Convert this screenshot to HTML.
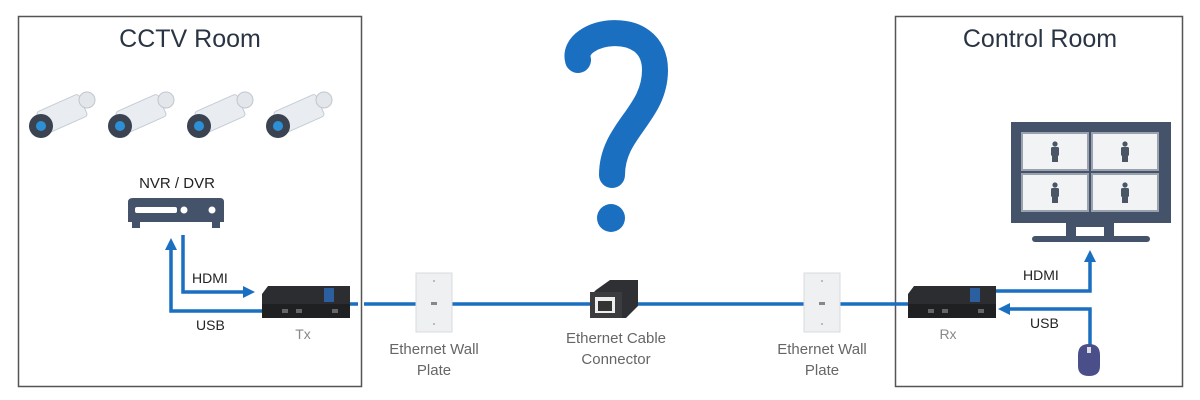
<!DOCTYPE html>
<html><head><meta charset="utf-8"><style>
html,body{margin:0;padding:0;background:#fff;}
svg{display:block;font-family:"Liberation Sans",sans-serif;}
</style></head><body>
<svg width="1200" height="400" viewBox="0 0 1200 400">
<defs>
<marker id="ah" markerWidth="12" markerHeight="12" refX="4" refY="6" orient="auto" markerUnits="userSpaceOnUse"><path d="M0,0 L12,6 L0,12 z" fill="#1a6fc0"/></marker>
<g id="cam">
<rect x="12" y="10" width="46" height="24" rx="3" transform="rotate(-24 35 22)" fill="#e9edf1" stroke="#c5ccd3"/>
<circle cx="60" cy="8" r="8" fill="#e3e7eb" stroke="#c0c6cc"/>
<circle cx="14" cy="34" r="12" fill="#3b4350"/>
<circle cx="14" cy="34" r="5" fill="#2d8fd5"/>
</g>
<g id="plate"><rect x="0" y="0" width="36" height="59" fill="#eef0f2" stroke="#d8dbde"/><rect x="15" y="29" width="6" height="3" fill="#888"/><circle cx="18" cy="8" r="1" fill="#aaa"/><circle cx="18" cy="51" r="1" fill="#aaa"/></g>
<g id="box"><path d="M6,0 L88,0 L88,30 L0,30 L0,8 z" fill="#2b2d30"/><rect x="0" y="18" width="88" height="14" fill="#1e2022"/><rect x="62" y="2" width="10" height="14" fill="#2c5fa0"/><rect x="20" y="23" width="6" height="4" fill="#666"/><rect x="34" y="23" width="6" height="4" fill="#666"/><rect x="70" y="23" width="6" height="4" fill="#666"/></g>
<g id="person"><circle cx="0" cy="-7" r="2.6" fill="#4a5665"/><rect x="-4" y="-4" width="8" height="9" rx="1.5" fill="#4a5665"/><rect x="-3" y="5" width="6" height="6" fill="#4a5665"/></g>
</defs>
<rect x="18.5" y="16.5" width="343" height="370" fill="none" stroke="#555" stroke-width="1.5"/>
<rect x="895.5" y="16.5" width="287" height="370" fill="none" stroke="#555" stroke-width="1.5"/>
<text x="190" y="47" font-size="25" fill="#2a3544" text-anchor="middle">CCTV Room</text>
<text x="1040" y="47" font-size="25" fill="#2a3544" text-anchor="middle">Control Room</text>
<use href="#cam" x="27" y="92"/><use href="#cam" x="106" y="92"/><use href="#cam" x="185" y="92"/><use href="#cam" x="264" y="92"/>
<text x="177" y="188" font-size="15" fill="#222" text-anchor="middle">NVR / DVR</text>
<path d="M133,198 L220,198 Q224,198 224,202 L224,222 L128,222 L128,202 Q128,198 133,198 z" fill="#44536a"/>
<rect x="132" y="222" width="8" height="6" fill="#44536a"/><rect x="212" y="222" width="8" height="6" fill="#44536a"/>
<rect x="135" y="207" width="42" height="6" rx="2" fill="#fff"/><circle cx="184" cy="210" r="3.5" fill="#fff"/><circle cx="212" cy="210" r="3.5" fill="#fff"/>
<g fill="none" stroke="#1a6fc0" stroke-width="3.5">
<path d="M262,311 L171,311 L171,246" marker-end="url(#ah)"/>
<path d="M183,235 L183,292 L247,292" marker-end="url(#ah)"/>
<path d="M350,304 L358,304 M364,304 L910,304"/>
<path d="M995,291 L1090,291 L1090,258" marker-end="url(#ah)"/>
<path d="M1090,345 L1090,309 L1006,309" marker-end="url(#ah)"/>
<path d="M578,60 C570,30 655,15 655,70 C655,115 612,130 612,175" stroke-width="26" stroke-linecap="round"/>
</g>
<circle cx="611" cy="218" r="14" fill="#1a6fc0"/>
<text x="192" y="283" font-size="14" fill="#222">HDMI</text>
<text x="196" y="330" font-size="14" fill="#222">USB</text>
<use href="#box" x="262" y="286"/>
<text x="303" y="339" font-size="14" fill="#888" text-anchor="middle">Tx</text>
<use href="#plate" x="416" y="273"/><use href="#plate" x="804" y="273"/>
<text x="434" y="354" font-size="15" fill="#666" text-anchor="middle">Ethernet Wall</text>
<text x="434" y="375" font-size="15" fill="#666" text-anchor="middle">Plate</text>
<text x="822" y="354" font-size="15" fill="#666" text-anchor="middle">Ethernet Wall</text>
<text x="822" y="375" font-size="15" fill="#666" text-anchor="middle">Plate</text>
<path d="M596,290 L610,280 L638,280 L638,306 L626,318 L590,318 L590,296 z" fill="#2e3033"/>
<rect x="590" y="292" width="32" height="26" fill="#3a3c3f"/>
<rect x="595" y="297" width="20" height="16" fill="#eee"/><rect x="598" y="301" width="14" height="10" fill="#333"/>
<text x="616" y="343" font-size="15" fill="#666" text-anchor="middle">Ethernet Cable</text>
<text x="616" y="364" font-size="15" fill="#666" text-anchor="middle">Connector</text>
<use href="#box" x="908" y="286"/>
<text x="948" y="339" font-size="14" fill="#888" text-anchor="middle">Rx</text>
<text x="1023" y="280" font-size="14" fill="#222">HDMI</text>
<text x="1030" y="328" font-size="14" fill="#222">USB</text>
<rect x="1011" y="122" width="160" height="101" fill="#44536a"/>
<rect x="1022" y="133" width="66" height="37" fill="#f2f3f5" stroke="#9aa3ad" stroke-width="2"/>
<rect x="1092" y="133" width="66" height="37" fill="#f2f3f5" stroke="#9aa3ad" stroke-width="2"/>
<rect x="1022" y="174" width="66" height="37" fill="#f2f3f5" stroke="#9aa3ad" stroke-width="2"/>
<rect x="1092" y="174" width="66" height="37" fill="#f2f3f5" stroke="#9aa3ad" stroke-width="2"/>
<use href="#person" x="1055" y="151"/><use href="#person" x="1125" y="151"/><use href="#person" x="1055" y="192"/><use href="#person" x="1125" y="192"/>
<rect x="1066" y="223" width="10" height="14" fill="#44536a"/><rect x="1104" y="223" width="10" height="14" fill="#44536a"/>
<rect x="1066" y="223" width="48" height="4" fill="#44536a"/>
<rect x="1032" y="236" width="118" height="6" rx="3" fill="#44536a"/>
<path d="M1078,355 Q1078,344 1089,344 Q1100,344 1100,355 L1100,366 Q1100,376 1089,376 Q1078,376 1078,366 z" fill="#4a4f8a"/>
<rect x="1087" y="347" width="4" height="6" fill="#ddd"/>
</svg>
</body></html>
